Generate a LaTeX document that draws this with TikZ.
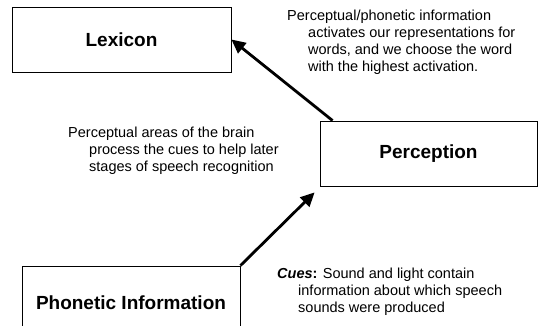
\documentclass[tikz,border=0pt]{standalone}
\usepackage{fontspec}
\setmainfont{Liberation Sans}
\usepackage{tikz}
\usetikzlibrary{positioning, calc, arrows.meta}

\begin{document}
\begin{tikzpicture}[
    x=1pt, y=1pt,
    box/.style={rectangle, draw, line width=0.8pt, inner sep=0pt, minimum height=65pt, align=center, font=\fontsize{19}{22}\selectfont\bfseries},
    flow_arrow/.style={-{Triangle[length=14pt, width=13pt]}, line width=2.8pt},
    note_style/.style={anchor=north west, inner sep=0pt, align=left, font=\fontsize{14.5}{17}\selectfont}
]
    \clip (0,0) rectangle (539,326);

    % Boxes
    \node[box, minimum width=219pt] (Lexicon) at (121.5,286.5) {Lexicon};
    \node[box, minimum width=217pt] (Perception) at (428.5,172.5) {Perception};
    \node[box, minimum width=218pt, minimum height=74pt] (Phonetic) at (131,23) {Phonetic Information};

    % Notes
    \node[note_style] (NoteLexicon) at (287,316.5) {Perceptual/phonetic information\\
        \hspace*{21pt}activates our representations for\\
        \hspace*{21pt}words, and we choose the word\\
        \hspace*{21pt}with the highest activation.};
    \node[note_style] (NotePerception) at (68,199.5) {Perceptual areas of the brain\\
        \hspace*{21pt}process the cues to help later\\
        \hspace*{21pt}stages of speech recognition};
    \node[note_style] (NoteCues) at (277,58.5) {\textbf{\textit{Cues}:} Sound and light contain\\
        \hspace*{21pt}information about which speech\\
        \hspace*{21pt}sounds were produced};

    % Arrows
    \draw[flow_arrow] (Phonetic.north east) -- ($(Perception.south west)+(-5,-6)$);
    \draw[flow_arrow] ($(Perception.north west)+(13,0)$) -- (Lexicon.east);
\end{tikzpicture}
\end{document}
